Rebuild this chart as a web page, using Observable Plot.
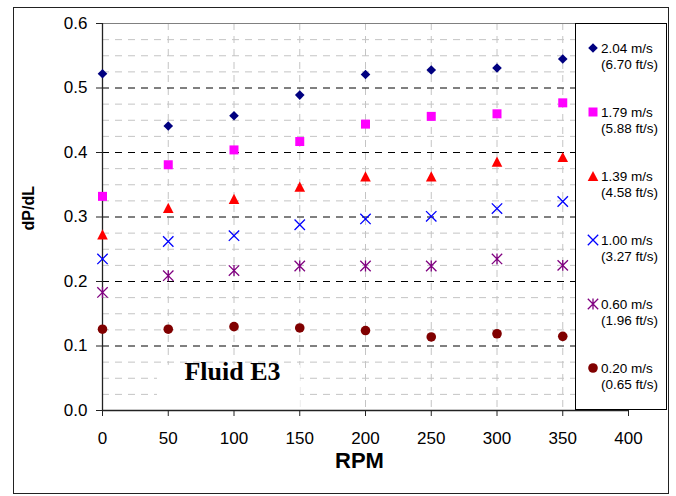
<!DOCTYPE html>
<html><head><meta charset="utf-8">
<script src="https://cdn.jsdelivr.net/npm/d3@7"></script>
<script src="https://cdn.jsdelivr.net/npm/@observablehq/plot@0.6"></script>
<style>
html,body{margin:0;padding:0;background:#fff;}
#wrap{position:relative;width:676px;height:496px;font-family:"Liberation Sans",Arial,sans-serif;overflow:hidden;}
#frame{position:absolute;left:13px;top:7px;width:656px;height:487px;border:1px solid #222;box-sizing:border-box;pointer-events:none;}
#legend{position:absolute;left:575px;top:23px;width:92px;height:387px;border:1px solid #000;box-sizing:border-box;background:#fff;}
.lt{position:absolute;left:601px;font-size:13.5px;line-height:16px;color:#000;white-space:nowrap;}
.lm{position:absolute;width:14px;height:14px;}
</style></head><body><div id="wrap"></div>
<script>
// ---- data ----
const rpm = [0, 50, 100, 150, 200, 250, 300, 350];
const v204 = [0.522, 0.441, 0.457, 0.489, 0.521, 0.528, 0.531, 0.545];
const v179 = [0.332, 0.381, 0.404, 0.417, 0.444, 0.456, 0.460, 0.477];
const v139 = [0.273, 0.314, 0.328, 0.347, 0.363, 0.363, 0.386, 0.393];
const v100 = [0.235, 0.262, 0.271, 0.288, 0.297, 0.301, 0.313, 0.324];
const v060 = [0.183, 0.209, 0.217, 0.224, 0.224, 0.224, 0.235, 0.225];
const v020 = [0.126, 0.126, 0.130, 0.128, 0.124, 0.114, 0.119, 0.115];
const seriesNames = ["2.04 m/s", "1.79 m/s", "1.39 m/s", "1.00 m/s", "0.60 m/s", "0.20 m/s"];
const seriesFt = ["(6.70 ft/s)", "(5.88 ft/s)", "(4.58 ft/s)", "(3.27 ft/s)", "(1.96 ft/s)", "(0.65 ft/s)"];
const xTicks = [0, 50, 100, 150, 200, 250, 300, 350, 400];
const yTicks = [0, 0.1, 0.2, 0.3, 0.4, 0.5, 0.6];
const yMajorGrid = [0.1, 0.2, 0.3, 0.4, 0.5];
const yMinorGrid = [0.025,0.05,0.075,0.125,0.15,0.175,0.225,0.25,0.275,0.325,0.35,0.375,0.425,0.45,0.475,0.525,0.55,0.575];
const xGrid = [50, 100, 150, 200, 250, 300, 350];
const annotation = "Fluid E3";
const annotationBox = [{x1: 41.8, x2: 150.5, y1: 0, y2: 0.07}];

// ---- symbols ----
function mk(f){ return {draw(c, size){ const r = Math.sqrt(size/Math.PI); f(c, r); }}; }
const symDiamond = mk((c,r)=>{c.moveTo(0,-r);c.lineTo(r,0);c.lineTo(0,r);c.lineTo(-r,0);c.closePath();});
const symSquare = mk((c,r)=>{c.moveTo(-r,-r);c.lineTo(r,-r);c.lineTo(r,r);c.lineTo(-r,r);c.closePath();});
const symTriangle = mk((c,r)=>{c.moveTo(0,-r);c.lineTo(1.04*r,r);c.lineTo(-1.04*r,r);c.closePath();});
const symTimes = mk((c,r)=>{c.moveTo(-r,-r);c.lineTo(r,r);c.moveTo(r,-r);c.lineTo(-r,r);});
const symStar = mk((c,r)=>{c.moveTo(-r,-r);c.lineTo(r,r);c.moveTo(r,-r);c.lineTo(-r,r);c.moveTo(0,-r*1.05);c.lineTo(0,r*1.05);});
const symCircle = mk((c,r)=>{c.moveTo(r,0);c.arc(0,0,r,0,2*Math.PI);c.closePath();});

const series = [
  {values: v204, sym: symDiamond, r: 4.8, color: "#000080", filled: true},
  {values: v179, sym: symSquare, r: 4.5, color: "#FF00FF", filled: true},
  {values: v139, sym: symTriangle, r: 5.1, color: "#FF0000", filled: true},
  {values: v100, sym: symTimes, r: 5.2, color: "#0000FF", filled: false},
  {values: v060, sym: symStar, r: 5.2, color: "#800080", filled: false},
  {values: v020, sym: symCircle, r: 4.8, color: "#800000", filled: true}
];

const dotMarks = series.map(s => Plot.dot(rpm.map((x, i) => ({x, y: s.values[i]})), {
  x: "x", y: "y", symbol: s.sym, r: s.r,
  fill: s.filled ? s.color : "none",
  stroke: s.filled ? "none" : s.color,
  strokeWidth: s.filled ? 0 : 1.3
}));

const dash = "7,6";
const chart = Plot.plot({
  width: 676, height: 496,
  marginLeft: 102, marginRight: 48, marginTop: 23, marginBottom: 86,
  x: {domain: [0, 400]},
  y: {domain: [0, 0.6]},
  style: {fontFamily: "'Liberation Sans', Arial, sans-serif", color: "#000", background: "transparent", overflow: "visible"},
  marks: [
    Plot.ruleY(yMinorGrid, {stroke: "#c4c4c4", strokeDasharray: dash, strokeWidth: 1}),
    Plot.ruleX(xGrid, {stroke: "#c4c4c4", strokeDasharray: dash, strokeWidth: 1}),
    Plot.ruleY(yMajorGrid, {stroke: "#000", strokeDasharray: dash, strokeWidth: 1}),
    Plot.rect(annotationBox, {x1: "x1", x2: "x2", y1: "y1", y2: "y2", fill: "#fff"}),
    Plot.ruleY([0.6], {stroke: "#808080", strokeWidth: 1}),
    Plot.ruleX([400], {stroke: "#808080", strokeWidth: 1}),
    Plot.ruleX([0], {stroke: "#222", strokeWidth: 1.3}),
    Plot.ruleY([0], {stroke: "#222", strokeWidth: 1.3}),
    Plot.axisX({ticks: xTicks, tickSize: 6, tickPadding: 15, label: null, fontSize: 17, stroke: "#222"}),
    Plot.axisY({ticks: yTicks, tickSize: 6, tickPadding: 9, label: null, fontSize: 17, tickFormat: d => d.toFixed(1), stroke: "#222"}),
    ...dotMarks,
    Plot.text([annotation], {frameAnchor: "bottom-left", dx: 130, dy: -31, fontSize: 26, fontWeight: "bold", fontFamily: "'Liberation Serif', 'Times New Roman', serif", textAnchor: "middle", fill: "#000"}),
    Plot.text(["RPM"], {frameAnchor: "bottom", dx: -6, dy: 57, fontSize: 22, fontWeight: "bold", fill: "#000"}),
    Plot.text(["dP/dL"], {frameAnchor: "left", dx: -74, dy: 13.5, rotate: -90, fontSize: 16, fontWeight: "bold", fill: "#000"})
  ]
});

const wrap = document.getElementById("wrap");
wrap.appendChild(chart);
chart.style.position = "absolute"; chart.style.left = "0"; chart.style.top = "0";

const legend = document.createElement("div"); legend.id = "legend"; wrap.appendChild(legend);
series.forEach((s, k) => {
  const cy = 48 + 64 * k;
  const svgNS = "http://www.w3.org/2000/svg";
  const m = document.createElementNS(svgNS, "svg");
  m.setAttribute("class", "lm"); m.setAttribute("width", 14); m.setAttribute("height", 14);
  m.style.left = (593 - 7) + "px"; m.style.top = (cy - 7) + "px";
  const p = document.createElementNS(svgNS, "path");
  p.setAttribute("d", d3.symbol(s.sym, Math.PI * s.r * s.r)());
  p.setAttribute("transform", "translate(7,7)");
  p.setAttribute("fill", s.filled ? s.color : "none");
  p.setAttribute("stroke", s.filled ? "none" : s.color);
  p.setAttribute("stroke-width", s.filled ? 0 : 1.3);
  m.appendChild(p); wrap.appendChild(m);
  const t = document.createElement("div"); t.className = "lt";
  t.style.top = (cy - 7.4) + "px";
  t.innerHTML = seriesNames[k] + "<br>" + seriesFt[k];
  wrap.appendChild(t);
});
const frame = document.createElement("div"); frame.id = "frame"; wrap.appendChild(frame);
</script></body></html>
